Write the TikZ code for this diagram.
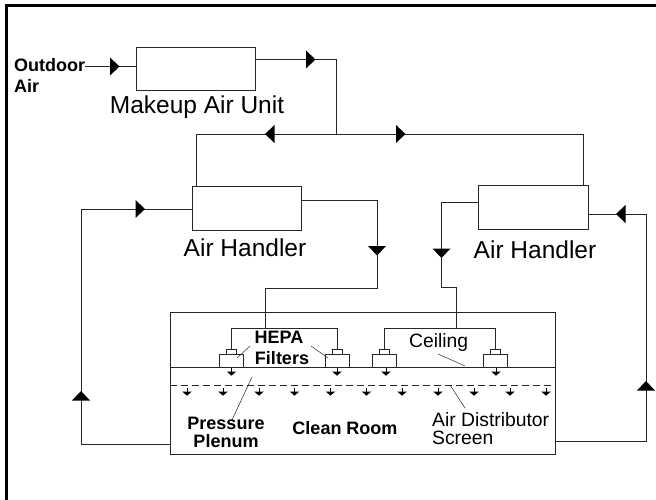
\documentclass[tikz,border=0pt]{standalone}
\usepackage{fontspec}
\setmainfont{Liberation Sans}
\usetikzlibrary{calc}
\tikzset{
  x=1pt,y=-1pt,
  ln/.style={draw=black!85,line width=0.8pt},
  boxn/.style={draw=black!85,line width=0.8pt,fill=white,anchor=north west,inner sep=0pt,outer sep=0pt},
  big/.style={font=\fontsize{24.5}{25}\selectfont,inner sep=0pt},
  lab/.style={font=\fontsize{18}{18}\selectfont\bfseries,inner sep=0pt},
  reg/.style={font=\fontsize{19.3}{19}\selectfont,inner sep=0pt,anchor=west},
  leader/.style={draw=black!85,line width=0.5pt},
}
\newcommand{\tr}[1]{\fill[black] ($(#1)+(-4.5,-9)$) -- ($(#1)+(5,0)$) -- ($(#1)+(-4.5,9)$) -- cycle;}
\newcommand{\tl}[1]{\fill[black] ($(#1)+(4.5,-9)$) -- ($(#1)+(-5,0)$) -- ($(#1)+(4.5,9)$) -- cycle;}
\newcommand{\td}[1]{\fill[black] ($(#1)+(-9,-4.5)$) -- ($(#1)+(0,5)$) -- ($(#1)+(9,-4.5)$) -- cycle;}
\newcommand{\tu}[1]{\fill[black] ($(#1)+(-9,4.5)$) -- ($(#1)+(0,-5)$) -- ($(#1)+(9,4.5)$) -- cycle;}
\newcommand{\sd}[1]{\draw[line width=0.9pt] ($(#1)+(0,-4)$) -- (#1); \fill[black] ($(#1)+(-4.8,0)$) -- ($(#1)+(0,4.2)$) -- ($(#1)+(4.8,0)$) -- cycle;}
\begin{document}
\begin{tikzpicture}
\useasboundingbox (0,0) rectangle (656,500);
\fill[white] (0,0) rectangle (656,500);
\draw[line width=2.5pt,black] (6.5,500) -- (6.5,5.5) -- (656,5.5);
% boxes
\node[boxn,minimum width=118.5pt,minimum height=43pt] (mau) at (136.5,47) {};
\node[boxn,minimum width=109pt,minimum height=44pt] (ahl) at (192,186) {};
\node[boxn,minimum width=109.5pt,minimum height=44pt] (ahr) at (478.5,185) {};
\node[boxn,minimum width=385pt,minimum height=142pt] (room) at (170,312) {};
% named coordinates
\coordinate (oa) at (85,66.5);
\coordinate (tee) at (336,134);
\coordinate (ro) at (81,444);
\coordinate (rr) at (646,441);
\coordinate (ceilL) at (170,367);
\coordinate (ceilR) at (555,367);
\coordinate (scrL) at (170,385);
\coordinate (scrR) at (555,385);
% connectors
\draw[ln] (oa) -- (oa -| mau.west);
\draw[ln] (mau.east |- 0,59.5) -- (336,59.5) -- (tee);
\draw[ln] (196,186) -- (196,134) -- (583,134) -- (583,185);
\draw[ln] (ahl.west |- 0,209) -- (81,209) -- (ro) -- (ro -| room.west);
\draw[ln] (ahl.east |- 0,200.5) -- (377,200.5) -- (377,288) -- (265,288) -- (265,328);
\draw[ln] (ahr.west |- 0,202) -- (441.5,202) -- (441.5,287) -- (456,287) -- (456,328);
\draw[ln] (ahr.east |- 0,214) -- (646,214) -- (rr) -- (rr -| room.east);
% ceiling & screen
\draw[ln] (ceilL) -- (ceilR);
\draw[ln,dash pattern=on 7pt off 4pt] (scrL) -- (scrR);
% filter headers
\draw[ln] (231,349) -- (231,328) -- (337,328) -- (337,349);
\draw[ln] (384.5,349) -- (384.5,328) -- (495,328) -- (495,349);
% filters
\foreach \n/\x in {fa/219.5,fb/325,fc/372.5,fd/483.5}{
  \node[boxn,line width=0.6pt,minimum width=24pt,minimum height=13pt] (\n) at (\x,354) {};
  \node[boxn,line width=0.6pt,minimum width=10pt,minimum height=5pt] (\n s) at (\x+7,349) {};
}
% big arrows
\tr{114.5,66.5}
\tr{310.5,59.5}
\tl{270,134}
\tr{400.5,134}
\tr{140,209}
\td{377,250.5}
\td{441.5,253}
\tl{621,214}
\tu{81,396}
\tu{646,386}
% small arrows
\foreach \x in {231.5,337,386,496}{\sd{\x,371.5}}
\foreach \x in {187,223,259,294.5,330.5,366.5,402,438,474,510,546}{\sd{\x,391.5}}
% leaders
\draw[leader] (250,346) -- (237,358);
\draw[leader] (311,346) -- (328,358);
\draw[leader] (438,354) -- (465,366);
\draw[leader] (450,385) -- (465,408);
\draw[leader] (252,377) -- (232,420);
% text
\node[lab,anchor=west] (t1) at (14,65) {Outdoor};
\node[lab,anchor=west] (t2) at (14,86) {Air};
\node[big] (t3) at (197,107) {Makeup Air Unit};
\node[big] (t4) at (245,248) {Air Handler};
\node[big] (t5) at (535,250) {Air Handler};
\node[font=\fontsize{18}{18}\selectfont\bfseries,inner sep=0pt] (t6) at (279,337) {HEPA};
\node[lab] (t7) at (282,358.5) {Filters};
\node[reg] (t8) at (409,343) {Ceiling};
\node[lab] (t9) at (226,423) {Pressure};
\node[lab] (t10) at (226,441) {Plenum};
\node[lab] (t11) at (345,428) {Clean Room};
\node[reg] (t12) at (432,420) {Air Distributor};
\node[reg] (t13) at (432,438) {Screen};
\end{tikzpicture}
\end{document}
